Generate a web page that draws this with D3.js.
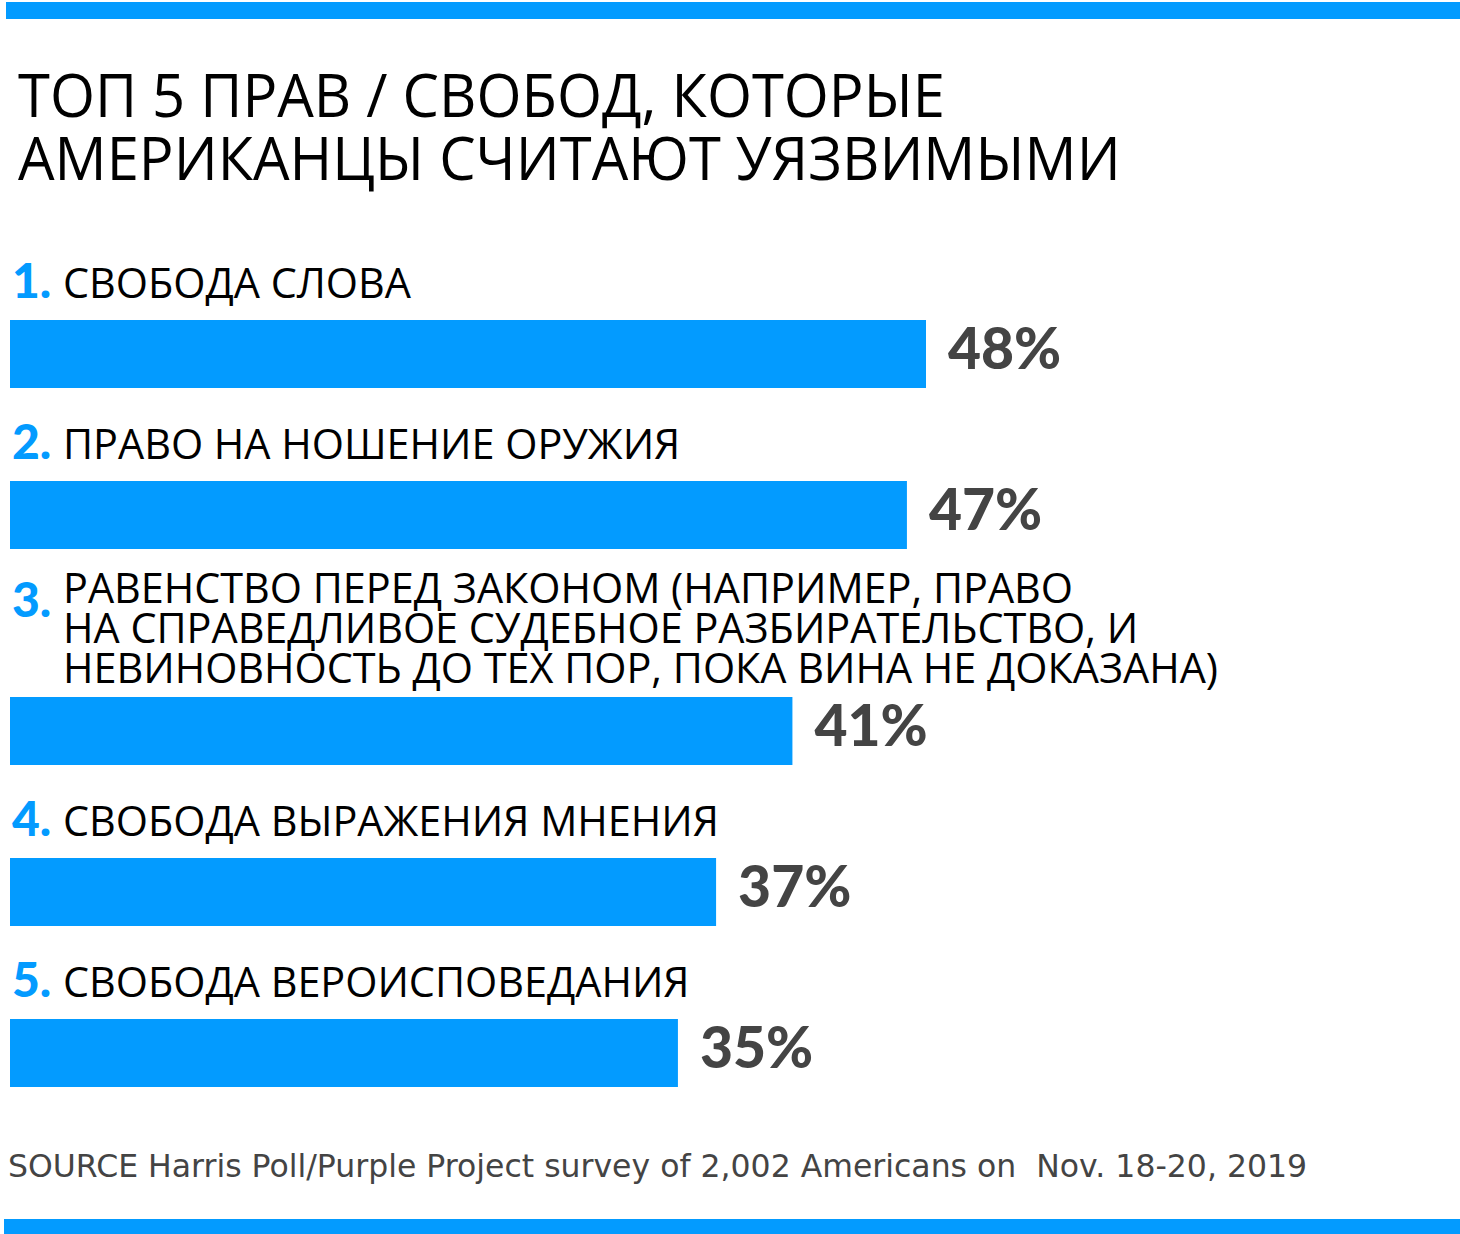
<!DOCTYPE html>
<html>
<head>
<meta charset="utf-8">
<script src="https://cdn.jsdelivr.net/npm/d3@7"></script>
<style>
  html, body { margin: 0; padding: 0; background: #fff; }
  svg { display: block; }
</style>
</head>
<body>
<svg id="chart" width="1460" height="1234"></svg>
<script>
// ---- data ----
const titleLines = ["ТОП 5 ПРАВ / СВОБОД, КОТОРЫЕ", "АМЕРИКАНЦЫ СЧИТАЮТ УЯЗВИМЫМИ"];
const ranks = ["1.", "2.", "3.", "4.", "5."];
const categories = [
  ["СВОБОДА СЛОВА"],
  ["ПРАВО НА НОШЕНИЕ ОРУЖИЯ"],
  ["РАВЕНСТВО ПЕРЕД ЗАКОНОМ (НАПРИМЕР, ПРАВО",
   "НА СПРАВЕДЛИВОЕ СУДЕБНОЕ РАЗБИРАТЕЛЬСТВО, И",
   "НЕВИНОВНОСТЬ ДО ТЕХ ПОР, ПОКА ВИНА НЕ ДОКАЗАНА)"],
  ["СВОБОДА ВЫРАЖЕНИЯ МНЕНИЯ"],
  ["СВОБОДА ВЕРОИСПОВЕДАНИЯ"]
];
const values = [48, 47, 41, 37, 35];
const sourceText = "SOURCE Harris Poll/Purple Project survey of 2,002 Americans on  Nov. 18-20, 2019";

// ---- layout ----
const W = 1460, H = 1234;
const blue = "#039bff";
const svg = d3.select("#chart");

const x = d3.scaleLinear().domain([0, 48]).range([10, 926]);

const firstBarTop = 320, rowStep = 161, extraLineStep = 27.5, barH = 68, lineH = 40;

// condense helper: shrink a text horizontally by a uniform factor
function condense(sel, k) {
  sel.each(function() {
    const w = this.getComputedTextLength();
    d3.select(this).attr("textLength", w * k).attr("lengthAdjust", "spacingAndGlyphs");
  });
}

let extra = 0;
const rows = values.map((v, i) => {
  const lines = categories[i].length;
  extra += lines - 1;
  const barTop = firstBarTop + rowStep * i + extraLineStep * extra;
  const lastBase = barTop - 22 + 4 * (lines - 1);
  const firstBase = lastBase - lineH * (lines - 1);
  return { v, i, lines, barTop, firstBase };
});

// top & bottom rules
svg.append("rect").attr("x", 6).attr("y", 2).attr("width", W - 6).attr("height", 17).attr("fill", blue);
svg.append("rect").attr("x", 4).attr("y", 1219).attr("width", W - 4).attr("height", 15).attr("fill", blue);

// title
svg.append("g").selectAll("text").data(titleLines).join("text")
  .attr("x", 18)
  .attr("y", (d, i) => 117 + i * 63)
  .attr("font-family", "'Open Sans', sans-serif")
  .attr("font-size", 60)
  .attr("fill", "#000")
  .text(d => d)
  .call(condense, 0.965);

// rows
const g = svg.append("g").selectAll("g").data(rows).join("g");

g.append("text")
  .attr("x", 12)
  .attr("y", d => d.firstBase + (d.lines > 1 ? 14 : 0))
  .attr("font-family", "Lato, sans-serif")
  .attr("font-weight", 900)
  .attr("font-size", 48)
  .attr("fill", blue)
  .text(d => ranks[d.i]);

g.each(function(d) {
  d3.select(this).selectAll("text.lbl").data(categories[d.i]).join("text")
    .attr("class", "lbl")
    .attr("x", 63)
    .attr("y", (t, k) => d.firstBase + k * lineH)
    .attr("font-family", "'Open Sans', sans-serif")
    .attr("font-size", 42)
    .attr("fill", "#000")
    .text(t => t)
    .call(condense, 0.985);
});

g.append("rect")
  .attr("x", x(0))
  .attr("y", d => d.barTop)
  .attr("width", d => x(d.v) - x(0))
  .attr("height", barH)
  .attr("fill", blue);

g.append("text")
  .attr("x", d => x(d.v) + 22)
  .attr("y", d => d.barTop + 49)
  .attr("font-family", "Lato, sans-serif")
  .attr("font-weight", 900)
  .attr("font-size", 57)
  .attr("fill", "#444")
  .text(d => d.v + "%");

// source
svg.append("text")
  .attr("x", 8)
  .attr("y", 1177)
  .attr("font-family", "'DejaVu Sans', sans-serif")
  .attr("font-size", 31.5)
  .attr("fill", "#444")
  .attr("xml:space", "preserve")
  .style("white-space", "pre")
  .text(sourceText);
</script>
</body>
</html>
